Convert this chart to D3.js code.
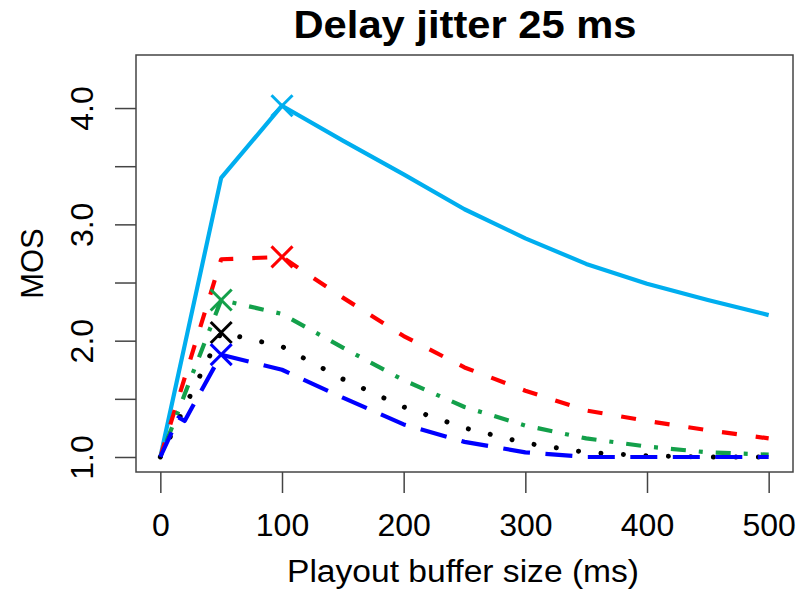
<!DOCTYPE html>
<html>
<head>
<meta charset="utf-8">
<script src="https://cdn.jsdelivr.net/npm/d3@7"></script>
<style>
    body { margin: 0; background: #fff; }
    text { font-family: "Liberation Sans", Arial, sans-serif; fill: #000; }
</style>
</head>
<body>
<svg id="chart"></svg>
<script>
// playout buffer sizes (ms) where the curves are read
const bufferSizes = [0, 15, 20, 50, 100, 150, 200, 250, 300, 350, 400, 450, 500];

// MOS values, one list per curve
const mosCyan  = [1.00, 1.72, 1.96, 3.40, 4.02, 3.72, 3.43, 3.13, 2.88, 2.66, 2.49, 2.35, 2.22];
const mosRed   = [1.00, 1.51, 1.68, 2.70, 2.72, 2.37, 2.04, 1.77, 1.57, 1.40, 1.31, 1.23, 1.16];
const mosGreen = [1.00, 1.40, 1.54, 2.35, 2.23, 1.94, 1.66, 1.43, 1.27, 1.16, 1.09, 1.04, 1.02];
const mosBlack = [1.00, 1.32, 1.43, 2.07, 1.95, 1.67, 1.43, 1.25, 1.12, 1.04, 1.01, 1.00, 1.00];
const mosBlue  = [1.00, 1.34, 1.31, 1.88, 1.75, 1.51, 1.28, 1.13, 1.04, 1.00, 1.00, 1.00, 1.00];

const xTicks = [0, 100, 200, 300, 400, 500];
const yTicks = [1.0, 1.5, 2.0, 2.5, 3.0, 3.5, 4.0];
const yLabels = ["1.0", "2.0", "3.0", "4.0"];

const series = [
    { name: "cyan",  values: mosCyan,  color: "#00AEEF", dash: null },
    { name: "red",   values: mosRed,   color: "#FF0000", dash: "15,19" },
    { name: "green", values: mosGreen, color: "#13A04A", dash: "4,13,15,13" },
    { name: "black", values: mosBlack, color: "#000000", dash: "0.01,22.5", cap: "round", width: 5 },
    { name: "blue",  values: mosBlue,  color: "#0000FF", dash: "27,15.5" }
];

const width = 810, height = 592;
const margin = { top: 55, right: 17, bottom: 120, left: 136 };

const svg = d3.select('#chart')
    .attr('width', width)
    .attr('height', height);

const xScale = d3.scaleLinear()
    .domain([-20, 520])
    .range([margin.left, width - margin.right]);

// 1.0 sits at y=457 and 4.0 at y=108
const yScale = d3.scaleLinear()
    .domain([0.871, 4.456])
    .range([height - margin.bottom, margin.top]);

// title
svg.append('text')
    .attr('x', 465)
    .attr('y', 38)
    .attr('text-anchor', 'middle')
    .attr('font-size', '38px')
    .attr('font-weight', 'bold')
    .attr('textLength', 343)
    .attr('lengthAdjust', 'spacingAndGlyphs')
    .text('Delay jitter 25 ms');

// x axis
const xAxis = d3.axisBottom(xScale)
    .tickValues(xTicks)
    .tickSize(21)
    .tickSizeOuter(0)
    .tickPadding(0);

const xAxisG = svg.append('g')
    .attr('class', 'axis x-axis')
    .attr('transform', `translate(0,${height - margin.bottom})`)
    .call(xAxis);
xAxisG.select('.domain').remove();
xAxisG.selectAll('.tick line').attr('stroke', '#444').attr('stroke-width', 1.5);
xAxisG.selectAll('.tick text')
    .attr('y', 64)
    .attr('dy', 0)
    .attr('font-size', '32px')
    .attr('font-family', '"Liberation Sans", Arial, sans-serif')
    .attr('fill', '#000');

// y axis, labels only on whole numbers like the original
const yAxis = d3.axisLeft(yScale)
    .tickValues(yTicks)
    .tickSize(21)
    .tickSizeOuter(0)
    .tickFormat(d => yLabels.includes(d3.format('.1f')(d)) ? d3.format('.1f')(d) : '');

const yAxisG = svg.append('g')
    .attr('class', 'axis y-axis')
    .attr('transform', `translate(${margin.left},0)`)
    .call(yAxis);
yAxisG.select('.domain').remove();
yAxisG.selectAll('.tick line').attr('stroke', '#444').attr('stroke-width', 1.5);
yAxisG.selectAll('.tick text')
    .attr('x', null)
    .attr('dy', null)
    .attr('text-anchor', 'middle')
    .attr('transform', 'translate(-43,0) rotate(-90)')
    .attr('font-size', '32px')
    .attr('font-family', '"Liberation Sans", Arial, sans-serif')
    .attr('fill', '#000');

// axis titles
svg.append('text')
    .attr('x', 463)
    .attr('y', 582)
    .attr('text-anchor', 'middle')
    .attr('font-size', '31px')
    .attr('textLength', 352)
    .attr('lengthAdjust', 'spacingAndGlyphs')
    .text('Playout buffer size (ms)');

svg.append('text')
    .attr('transform', `translate(43,${(margin.top + height - margin.bottom) / 2}) rotate(-90)`)
    .attr('text-anchor', 'middle')
    .attr('font-size', '31px')
    .text('MOS');

// plot box
svg.append('rect')
    .attr('x', margin.left)
    .attr('y', margin.top)
    .attr('width', width - margin.left - margin.right)
    .attr('height', height - margin.top - margin.bottom)
    .attr('fill', 'none')
    .attr('stroke', '#444')
    .attr('stroke-width', 1.5);

const line = d3.line()
    .x((d, i) => xScale(bufferSizes[i]))
    .y(d => yScale(d));

const chart = svg.append('g');

chart.selectAll('.curve')
    .data(series)
    .join('path')
    .attr('class', 'curve')
    .attr('d', d => line(d.values))
    .attr('fill', 'none')
    .attr('stroke', d => d.color)
    .attr('stroke-width', d => d.width || 4.2)
    .attr('stroke-linecap', d => d.cap || 'butt')
    .attr('stroke-linejoin', 'round')
    .attr('stroke-dasharray', d => d.dash);

// an "x" marker on the maximum of each curve
const markerSize = 10.5;
series.forEach(s => {
    const iMax = d3.maxIndex(s.values);
    const cx = xScale(bufferSizes[iMax]);
    const cy = yScale(s.values[iMax]);
    const g = chart.append('g').attr('class', 'marker');
    [[-1, -1, 1, 1], [-1, 1, 1, -1]].forEach(([a, b, c, e]) => {
        g.append('line')
            .attr('x1', cx + a * markerSize)
            .attr('y1', cy + b * markerSize)
            .attr('x2', cx + c * markerSize)
            .attr('y2', cy + e * markerSize)
            .attr('stroke', s.color)
            .attr('stroke-width', 3);
    });
});
</script>
</body>
</html>
